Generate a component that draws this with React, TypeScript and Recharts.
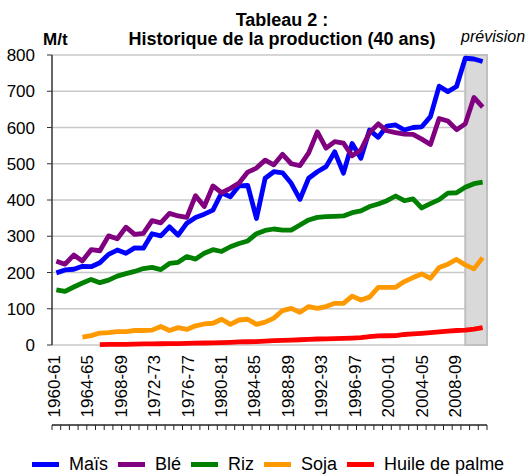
import React from "react";
import { LineChart, Line, XAxis, YAxis, CartesianGrid, ReferenceArea } from "recharts";

const years = [
  "1960-61", "1961-62", "1962-63", "1963-64", "1964-65", "1965-66", "1966-67", "1967-68", "1968-69", "1969-70",
  "1970-71", "1971-72", "1972-73", "1973-74", "1974-75", "1975-76", "1976-77", "1977-78", "1978-79", "1979-80",
  "1980-81", "1981-82", "1982-83", "1983-84", "1984-85", "1985-86", "1986-87", "1987-88", "1988-89", "1989-90",
  "1990-91", "1991-92", "1992-93", "1993-94", "1994-95", "1995-96", "1996-97", "1997-98", "1998-99", "1999-00",
  "2000-01", "2001-02", "2002-03", "2003-04", "2004-05", "2005-06", "2006-07", "2007-08", "2008-09", "2009-10",
];

const mais = [
  199, 207, 209, 217, 216, 227, 250, 262, 253, 268,
  267, 307, 301, 326, 303, 336, 352, 361, 372, 420,
  409, 439, 440, 349, 460, 478, 475, 446, 402, 460,
  478, 492, 533, 474, 556, 515, 593, 573, 604, 607,
  593, 600, 602, 630, 714, 699, 713, 791, 789, 782,
];

const ble = [
  231, 223, 248, 232, 263, 260, 301, 293, 325, 305,
  308, 343, 337, 363, 356, 352, 412, 382, 439, 420,
  432, 447, 477, 488, 510, 497, 526, 500, 495, 530,
  588, 543, 561, 557, 522, 538, 586, 610, 591, 586,
  582, 581, 568, 553, 625, 618, 594, 610, 683, 656,
];

const riz = [
  152, 148, 160, 171, 181, 172, 179, 190, 197, 203,
  211, 214, 208, 225, 228, 244, 237, 253, 263, 258,
  271, 280, 287, 307, 316, 320, 317, 317, 331, 345,
  352, 354, 355, 356, 365, 370, 382, 389, 398, 411,
  398, 403, 378, 390, 401, 419, 420, 435, 445, 449,
];

const soja = [
  null, null, null, 22, 26, 33, 34, 37, 37, 40,
  40, 41, 51, 40, 48, 43, 53, 58, 60, 71,
  57, 69, 71, 57, 63, 74, 95, 101, 90, 106,
  101, 106, 115, 115, 135, 124, 132, 159, 159, 159,
  175, 186, 196, 184, 214, 223, 236, 221, 210, 241,
];

const huile = [
  null, null, null, null, null, 1, 1.5, 2, 2, 2.5,
  3, 3, 3.5, 4, 4, 4.5, 5, 5.5, 6, 6.5,
  7.5, 8.5, 9, 9.5, 10.5, 12, 13, 13.5, 14.5, 15.5,
  16.5, 17, 17.5, 18, 19, 20.5, 23, 25, 25.5, 26,
  29, 30.5, 32, 34, 36, 38, 40, 41, 44, 48,
];

// Axis labels, one every four seasons (label scale counts 52 seasons, 1960-61 .. 2011-12)
const tickLabels = [
  "1960-61", "1964-65", "1968-69", "1972-73", "1976-77", "1980-81", "1984-85",
  "1988-89", "1992-93", "1996-97", "2000-01", "2004-05", "2008-09",
];
const LABEL_SLOTS = 52;
const LABEL_STEP = 4;

const yTicks = [0, 100, 200, 300, 400, 500, 600, 700, 800];
const forecastStart = "2007-08";

const series = [
  { key: "mais", name: "Maïs", color: "#0000FF" },
  { key: "ble", name: "Blé", color: "#800080" },
  { key: "riz", name: "Riz", color: "#008000" },
  { key: "soja", name: "Soja", color: "#FF9900" },
  { key: "huile", name: "Huile de palme", color: "#FF0000" },
];

const data = years.map((year, i) => ({
  i,
  year,
  mais: mais[i],
  ble: ble[i],
  riz: riz[i],
  soja: soja[i],
  huile: huile[i],
}));

const FONT = "'Liberation Sans', Arial, Helvetica, sans-serif";

const boundaryTicks = [-0.5, ...years.map((_, i) => i + 0.5)];
const labelTicks = tickLabels.map((_, k) => k * LABEL_STEP);

const RotatedTick = (props: any) => {
  const { x, y, payload } = props;
  const label = tickLabels[Math.round(payload.value / LABEL_STEP)] ?? "";
  return (
    <text
      x={x}
      y={y}
      dy={3.5}
      transform={`rotate(-90, ${x}, ${y})`}
      textAnchor="end"
      fontSize={17}
      fontFamily={FONT}
      fill="#000"
    >
      {label}
    </text>
  );
};

export default function App() {
  const forecastIdx = years.indexOf(forecastStart);
  return (
    <div style={{ position: "relative", width: 531, height: 475, fontFamily: FONT, background: "#fff" }}>
      <style>{"body{margin:0;}"}</style>
      <LineChart
        width={531}
        height={475}
        data={data}
        margin={{ top: 55, right: 44, left: 0, bottom: 45 }}
      >
        <CartesianGrid xAxisId="main" vertical={false} stroke="#c8c8c8" strokeWidth={1.5} />
        <XAxis
          xAxisId="main"
          dataKey="i"
          type="number"
          domain={[-0.5, years.length - 0.5]}
          allowDataOverflow
          ticks={boundaryTicks}
          interval={0}
          tickFormatter={() => ""}
          tickSize={5}
          tickMargin={0}
          height={5}
          axisLine={{ stroke: "#222", strokeWidth: 1.3 }}
          tickLine={{ stroke: "#222", strokeWidth: 1 }}
        />
        <XAxis
          xAxisId="labels"
          dataKey="i"
          type="number"
          domain={[-0.5, LABEL_SLOTS - 0.5]}
          allowDataOverflow
          ticks={labelTicks}
          interval={0}
          tick={<RotatedTick />}
          tickSize={0}
          tickMargin={10}
          tickLine={false}
          axisLine={false}
          height={80}
        />
        <YAxis
          type="number"
          domain={[0, 800]}
          ticks={yTicks}
          interval={0}
          width={52}
          tickSize={5}
          tickMargin={12}
          tick={{ fontSize: 17, fill: "#000", fontFamily: FONT }}
          axisLine={{ stroke: "#333", strokeWidth: 1.5 }}
          tickLine={{ stroke: "#333", strokeWidth: 1 }}
        />
        <ReferenceArea
          xAxisId="main"
          x1={forecastIdx}
          x2={years.length - 0.5}
          y1={0}
          y2={800}
          fill="#d9d9d9"
          fillOpacity={1}
          stroke="#c0c0c0"
          strokeWidth={2}
        />
        {series.map((s) => (
          <Line
            key={s.key}
            xAxisId="main"
            type="linear"
            dataKey={s.key}
            name={s.name}
            stroke={s.color}
            strokeWidth={4.8}
            strokeLinejoin="round"
            dot={false}
            activeDot={false}
            isAnimationActive={false}
          />
        ))}
      </LineChart>

      <svg
        width={531}
        height={70}
        style={{ position: "absolute", left: 0, top: 0, pointerEvents: "none" }}
      >
        <text x={282} y={26} textAnchor="middle" fontSize={18} fontWeight="bold" fontFamily={FONT} fill="#000">
          Tableau 2 :
        </text>
        <text x={282} y={45} textAnchor="middle" fontSize={18} fontWeight="bold" fontFamily={FONT} fill="#000">
          Historique de la production (40 ans)
        </text>
        <text x={43} y={45} fontSize={17} fontWeight="bold" fontFamily={FONT} fill="#000">
          M/t
        </text>
        <text x={461} y={42} fontSize={16} fontStyle="italic" fontFamily={FONT} fill="#000">
          prévision
        </text>
      </svg>

      <div
        style={{
          position: "absolute",
          left: 32,
          top: 454,
          display: "flex",
          alignItems: "center",
          gap: 10,
          fontSize: 18,
          lineHeight: "20px",
          whiteSpace: "nowrap",
          color: "#000",
        }}
      >
        {series.map((s) => (
          <div key={s.key} style={{ display: "flex", alignItems: "center" }}>
            <div style={{ width: 27, height: 5, background: s.color, marginRight: 10 }} />
            <span>{s.name}</span>
          </div>
        ))}
      </div>
    </div>
  );
}
